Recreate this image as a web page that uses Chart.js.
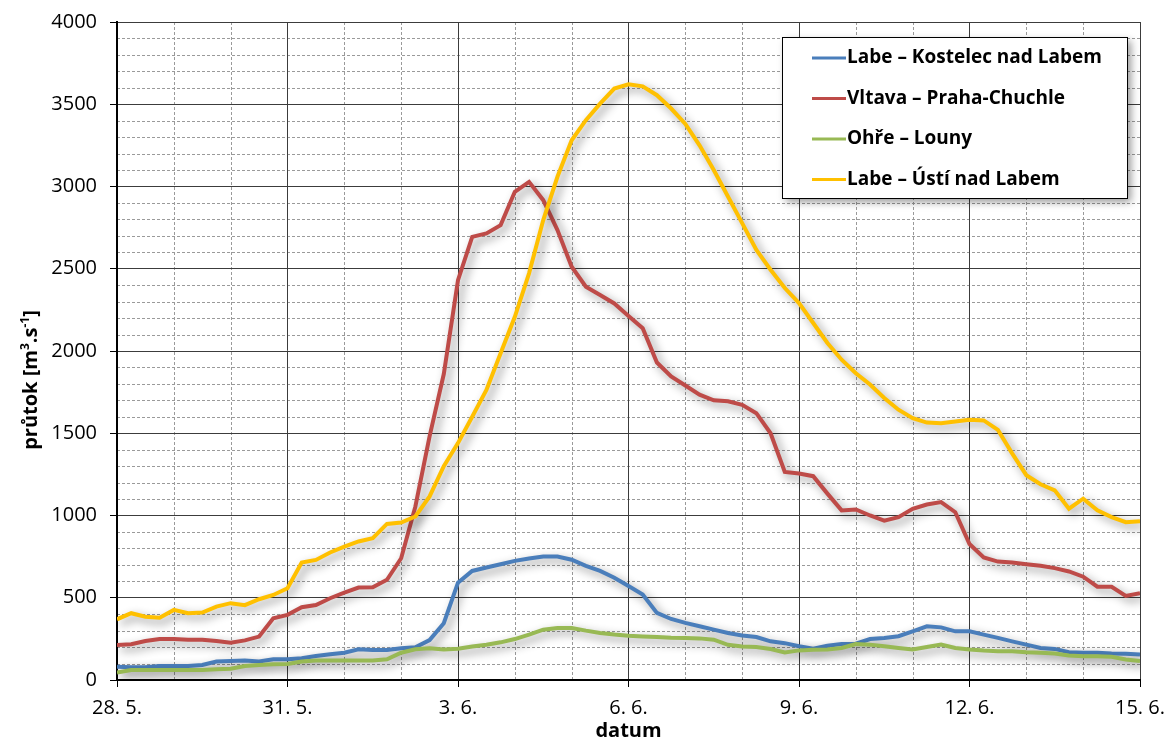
<!DOCTYPE html>
<html>
<head>
<meta charset="utf-8">
<script src="https://cdn.jsdelivr.net/npm/chart.js@4"></script>
<style>
  body { margin: 0; background: #fff; }
</style>
</head>
<body>
<canvas id="myChart" width="1166" height="745"></canvas>
<script>
// days since 28. 5. (6-hour steps)
const days = [0, 0.25, 0.5, 0.75, 1, 1.25, 1.5, 1.75, 2, 2.25, 2.5, 2.75, 3, 3.25, 3.5, 3.75,
  4, 4.25, 4.5, 4.75, 5, 5.25, 5.5, 5.75, 6, 6.25, 6.5, 6.75, 7, 7.25, 7.5, 7.75,
  8, 8.25, 8.5, 8.75, 9, 9.25, 9.5, 9.75, 10, 10.25, 10.5, 10.75, 11, 11.25, 11.5, 11.75,
  12, 12.25, 12.5, 12.75, 13, 13.25, 13.5, 13.75, 14, 14.25, 14.5, 14.75, 15, 15.25, 15.5, 15.75,
  16, 16.25, 16.5, 16.75, 17, 17.25, 17.5, 17.75, 18];

const tickLabels = ['28. 5.', '31. 5.', '3. 6.', '6. 6.', '9. 6.', '12. 6.', '15. 6.'];

const seriesNames = ['Labe – Kostelec nad Labem', 'Vltava – Praha-Chuchle', 'Ohře – Louny', 'Labe – Ústí nad Labem'];
const seriesColors = ['#4a7ebb', '#be4b48', '#98b954', '#ffc000'];

const kostelec = [81, 77, 77, 85, 85, 85, 91, 112, 116, 118, 112, 126, 126, 132, 146, 156,
  166, 187, 183, 183, 193, 199, 243, 345, 592, 663, 684, 704, 724, 739, 751, 751,
  731, 694, 663, 622, 571, 520, 408, 371, 347, 327, 306, 286, 271, 261, 235, 224,
  205, 190, 208, 219, 221, 249, 256, 266, 296, 326, 320, 296, 296, 276, 256, 235,
  215, 195, 189, 169, 165, 165, 161, 159, 155];

const chuchle = [213, 217, 237, 249, 249, 245, 245, 237, 227, 241, 264, 375, 396, 442, 456, 497,
  531, 562, 564, 609, 740, 1055, 1481, 1860, 2431, 2694, 2715, 2765, 2968, 3028, 2917, 2735,
  2512, 2391, 2340, 2289, 2213, 2138, 1930, 1845, 1790, 1735, 1700, 1694, 1673, 1622, 1500, 1265,
  1255, 1239, 1133, 1031, 1037, 1000, 969, 990, 1041, 1067, 1082, 1020, 827, 745, 720, 714,
  704, 694, 680, 660, 628, 567, 567, 511, 527];

const louny = [45, 61, 61, 61, 61, 61, 61, 65, 69, 85, 91, 95, 97, 112, 118, 118,
  118, 118, 118, 126, 166, 187, 193, 185, 190, 204, 214, 229, 249, 276, 306, 316,
  316, 300, 286, 276, 269, 265, 261, 257, 255, 253, 245, 214, 204, 200, 188, 167,
  180, 184, 186, 195, 219, 215, 205, 195, 185, 201, 215, 195, 185, 179, 175, 175,
  169, 165, 161, 149, 145, 145, 141, 125, 115];

const usti = [369, 406, 385, 378, 426, 406, 410, 446, 467, 455, 491, 517, 558, 714, 730, 775,
  811, 842, 862, 949, 957, 994, 1116, 1300, 1440, 1600, 1763, 1986, 2208, 2472, 2796, 3059,
  3281, 3403, 3504, 3595, 3621, 3609, 3555, 3474, 3380, 3250, 3100, 2939, 2777, 2615, 2494, 2383,
  2291, 2170, 2049, 1947, 1865, 1796, 1714, 1643, 1592, 1565, 1561, 1571, 1582, 1578, 1520, 1378,
  1245, 1190, 1153, 1041, 1102, 1031, 990, 959, 965];

const allSeries = [kostelec, chuchle, louny, usti];

const FONT = "'Open Sans', sans-serif";

// white background + dashed minor grid (every day / every 100)
const minorGrid = {
  id: 'minorGrid',
  beforeDraw(chart) {
    const ctx = chart.ctx;
    const {left, right, top, bottom} = chart.chartArea;
    const xs = chart.scales.x, ys = chart.scales.y;
    ctx.save();
    ctx.fillStyle = '#fff';
    ctx.fillRect(0, 0, chart.width, chart.height);
    ctx.strokeStyle = '#9a9a9a';
    ctx.lineWidth = 1;
    ctx.setLineDash([3, 2]);
    for (let d = 1; d < 18; d++) {
      if (d % 3 === 0) continue;
      const px = Math.round(xs.getPixelForValue(d)) + 0.5;
      ctx.beginPath(); ctx.moveTo(px, top); ctx.lineTo(px, bottom); ctx.stroke();
    }
    for (let v = 100; v < 4000; v += 100) {
      if (v % 500 === 0) continue;
      const py = Math.round(ys.getPixelForValue(v)) + 0.5;
      ctx.beginPath(); ctx.moveTo(left, py); ctx.lineTo(right, py); ctx.stroke();
    }
    ctx.restore();
  }
};

const lineShadow = {
  id: 'lineShadow',
  beforeDatasetDraw(chart) {
    const ctx = chart.ctx;
    ctx.save();
    ctx.shadowColor = 'rgba(0,0,0,0.45)';
    ctx.shadowBlur = 10;
    ctx.shadowOffsetX = 4;
    ctx.shadowOffsetY = 4;
  },
  afterDatasetDraw(chart) {
    chart.ctx.restore();
  }
};

// y title with real superscripts
const yTitle = {
  id: 'yTitle',
  afterDraw(chart) {
    const ctx = chart.ctx;
    ctx.save();
    ctx.translate(30, 380);
    ctx.rotate(-Math.PI / 2);
    ctx.fillStyle = '#000';
    ctx.textBaseline = 'alphabetic';
    const big = 'bold 20px ' + FONT, small = 'bold 12px ' + FONT;
    const parts = [['průtok [m', big, 0], ['3', small, -8], ['.s', big, 0], ['-1', small, -8], [']', big, 0]];
    let total = 0;
    parts.forEach(p => { ctx.font = p[1]; total += ctx.measureText(p[0]).width; });
    let x = -total / 2;
    parts.forEach(p => {
      ctx.font = p[1];
      ctx.fillText(p[0], x, 7 + p[2]);
      x += ctx.measureText(p[0]).width;
    });
    ctx.restore();
  }
};

const boxLegend = {
  id: 'boxLegend',
  afterDraw(chart) {
    const ctx = chart.ctx;
    const bx = 782, by = 37, bw = 345, bh = 161;
    ctx.save();
    ctx.shadowColor = 'rgba(0,0,0,0.4)';
    ctx.shadowBlur = 8;
    ctx.shadowOffsetX = 4;
    ctx.shadowOffsetY = 4;
    ctx.fillStyle = '#fff';
    ctx.fillRect(bx, by, bw, bh);
    ctx.restore();
    ctx.save();
    ctx.strokeStyle = '#000';
    ctx.lineWidth = 1;
    ctx.strokeRect(bx + 0.5, by + 0.5, bw, bh);
    ctx.font = 'bold 19px ' + FONT;
    ctx.textBaseline = 'middle';
    ctx.fillStyle = '#000';
    chart.data.datasets.forEach((ds, i) => {
      const y = 58 + i * 40.5;
      ctx.strokeStyle = ds.borderColor;
      ctx.lineWidth = 3;
      ctx.beginPath(); ctx.moveTo(812, y); ctx.lineTo(846, y); ctx.stroke();
      ctx.fillText(ds.label, 847, y);
    });
    ctx.restore();
  }
};

const ctx = document.getElementById('myChart');

const chart = new Chart(ctx, {
  type: 'line',
  data: {
    datasets: allSeries.map((vals, i) => ({
      label: seriesNames[i],
      data: vals.map((v, j) => ({x: days[j], y: v})),
      borderColor: seriesColors[i],
      borderWidth: 4,
      pointRadius: 0,
      tension: 0,
      fill: false,
      order: 3 - i
    }))
  },
  options: {
    responsive: false,
    animation: false,
    layout: { padding: { top: 22, right: 26, left: 0, bottom: 0 } },
    plugins: { legend: { display: false }, tooltip: { enabled: false } },
    scales: {
      x: {
        type: 'linear',
        min: 0,
        max: 18,
        afterFit: s => { s.height = 65; s.paddingLeft = 0; s.paddingRight = 0; },
        ticks: {
          stepSize: 3,
          maxRotation: 0,
          autoSkip: false,
          padding: 9,
          color: '#000',
          font: { family: FONT, size: 20 },
          callback: (v) => tickLabels[Math.round(v / 3)]
        },
        grid: { color: '#3c3c3c', lineWidth: 1, tickLength: 7, tickColor: '#000' },
        border: { color: '#000', width: 2 },
        title: {
          display: true,
          text: 'datum',
          color: '#000',
          font: { family: FONT, size: 20, weight: 'bold' },
          padding: { top: 0, bottom: 2 }
        }
      },
      y: {
        min: 0,
        max: 4000,
        afterFit: s => { s.width = 117; s.paddingTop = 0; s.paddingBottom = 0; },
        ticks: {
          stepSize: 500,
          padding: 13,
          color: '#000',
          font: { family: FONT, size: 20 },
          callback: (v) => String(v)
        },
        grid: { color: '#3c3c3c', lineWidth: 1, tickLength: 7, tickColor: '#000' },
        border: { color: '#000', width: 2 }
      }
    }
  },
  plugins: [minorGrid, lineShadow, yTitle, boxLegend]
});
</script>
</body>
</html>
